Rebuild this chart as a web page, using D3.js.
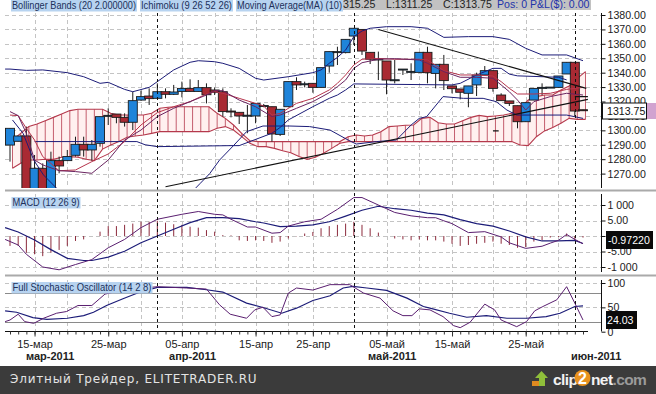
<!DOCTYPE html>
<html>
<head>
<meta charset="utf-8">
<script src="https://cdn.jsdelivr.net/npm/d3@7"></script>
<style>
html, body { margin: 0; padding: 0; background: #fff; }
svg { display: block; }
text { font-family: "Liberation Sans", Arial, sans-serif; }
.tick text { font-size: 10.6px; fill: #222; }
</style>
</head>
<body>
<div id="chart"></div>
<script>
// candles, one per trading slot
var opens = [1289.8,1292.4,1296.1,1258,1273.7,1258,1279,1279,1282.7,1290.3,
    1286.4,1291,1309.9,1311.3,1309,1305.6,1321,1323.8,1322.2,1326.8,
    1325,1327,1329.1,1327,1329.6,1328,1326.8,1313.4,1312.5,1310,
    1310,1316.9,1316.4,1297.2,1316.4,1333.8,1332,1332.6,1329.8,1344.6,
    1354.4,1353.9,1365.4,1370,1354.1,1349.3,1348.1,1334.9,1342.3,1340.7,
    1340.2,1354.1,1339.5,1345.8,1330.8,1328.7,1325.7,1331.5,1338.4,1341.4,
    1324.5,1320.4,1317.1,1306,1321,1329.6,1329.8,1329.8,1339.1,1347.2,1314.3];
var closes = [1301.4,1296.1,1258,1273.7,1258,1279,1275.3,1281.8,1290.3,1286.4,
    1290.3,1309.5,1310.4,1309,1305.6,1320.6,1323.4,1322,1326.8,1325,
    1326.6,1329.1,1327,1329.6,1324.7,1326.4,1313,1313,1310,1310.5,
    1318.7,1317.2,1297.5,1314.6,1333.8,1331.5,1332.3,1329.8,1343.5,1354.6,
    1354.6,1363.1,1370.8,1355,1349.3,1349.5,1334.9,1335.1,1342.5,1340.9,
    1354.1,1340,1345.8,1334.5,1328.9,1326.4,1330.8,1338.4,1341.4,1329.1,
    1320.6,1318.7,1306,1319.2,1329.1,1329.8,1330,1337.7,1347.2,1313.4,1313.75];
var highs = [1301.4,1296.1,1302.6,1282.9,1277.1,1285.2,1281.8,1286.4,1295.6,1295.6,
    1293.3,1309.5,1315.3,1311.3,1311.8,1326.8,1327.5,1329.1,1332.6,1329.1,
    1331.5,1333.8,1335.4,1334.9,1332.6,1329.8,1329.1,1315.3,1312.5,1317.6,
    1318.7,1318.3,1316.4,1314.6,1333.8,1336.8,1333.8,1332.6,1343.5,1354.6,
    1358,1363.1,1370.8,1370,1354.1,1354.6,1348.1,1348.8,1342.5,1346.5,
    1354.1,1358,1345.8,1352.3,1330.8,1328.7,1330.8,1340,1344.6,1341.4,
    1325.7,1320.4,1317.1,1319.2,1329.1,1332.6,1330,1337.7,1347.2,1347.2,1314.3];
var lows = [1278.3,1292.4,1258,1258,1258,1258,1270.2,1279,1281.8,1281.8,
    1279,1288.7,1303.7,1304.9,1302.6,1300.2,1320.6,1317.6,1322.2,1322.2,
    1324.5,1322.9,1327,1327,1318.7,1324.5,1309.5,1309,1304.4,1298,
    1304.9,1316,1292.2,1296.1,1316.4,1328,1329.8,1326.1,1329.8,1340,
    1345.3,1353.4,1359.2,1352.3,1346,1334.9,1325,1332.6,1338.4,1334.9,
    1340.2,1332.6,1329.1,1328,1325.7,1321.5,1316,1323.8,1338.4,1326.8,
    1320.6,1316.9,1301.4,1306,1321,1324.5,1329.8,1329.8,1339.1,1309.5,1313.4];

// ichimoku cloud, one per slot
var spanA = [1293.3,1297.9,1302.6,1304.4,1306.7,1309,1311.3,1313.7,1314.6,1314.6,
    1314.6,1314.6,1311.8,1310.6,1310.6,1310.6,1310.6,1311.8,1315.3,1316,
    1316.4,1316.4,1316.4,1316.4,1316.4,1311.8,1308.3,1303.7,1297.9,1292.8,
    1292.2,1292.2,1292.2,1292.2,1292.2,1292.2,1292.2,1292.2,1292.2,1292.2,
    1292.2,1295.6,1296.8,1296.1,1296.8,1299.1,1302.6,1303,1303.5,1303.7,
    1308.3,1309,1305.3,1304.4,1304.4,1306.7,1309,1310.4,1309.5,1310,
    1310.6,1311.8,1315.3,1321,1323.4,1324.5,1324.5,1328,1330.8,1336.1,1340.7];
var spanB = [1273.7,1277.1,1279.4,1279.4,1279.9,1279.9,1281.3,1281.8,1281.3,1279.9,
    1279,1287,1289.8,1292.2,1295.2,1296.1,1296.8,1297.9,1299.1,1299.1,
    1299.1,1299.1,1299.1,1299.1,1299.1,1301.4,1302.6,1300.2,1295.6,1291,
    1288.7,1288.7,1287.5,1285.9,1284.5,1281.8,1279.9,1281.3,1284.1,1287.5,
    1291,1292.2,1292.2,1292.2,1292.2,1292.2,1292.2,1292.2,1292.2,1292.2,
    1292.2,1292.2,1292.2,1292.2,1292.2,1292.2,1292.2,1292.2,1292.2,1292.2,
    1292.2,1292.2,1289.8,1289.4,1295.6,1299.6,1301.9,1304.9,1308.3,1307.6,1307.6];

// overlays as [slot, price]
var upperBand = [[-0.6,1342.5],[0,1342.5],[2,1341.6],[4,1341.9],[7,1340],[9,1337.2],[11,1332.6],[12,1333.3],[14,1328.4],[15,1326.8],
    [17,1329.8],[18,1333.8],[20,1341.9],[22,1347.2],[23,1348.3],[25,1347.6],[26,1346.5],[28,1343],[30,1336.1],[31,1334.9],
    [34,1337.2],[37,1340],[38,1341.9],[39,1346.5],[40,1350.6],[41,1355.7],[42,1365],[43,1368.9],[44,1370.8],[46,1371.9],
    [49,1371.9],[51,1370.8],[53,1364.5],[56,1365],[59,1365],[61,1363.1],[63,1356.9],[65,1352.3],[68,1352.3],[70,1348.3]];
var lowerBand = [[0.3,1307.2],[1.6,1297.9],[2.9,1279.4],[4.1,1269],[5.7,1259.8],[8,1250],[22,1256],[23.2,1263],[24.4,1270],[25.6,1279.4],
    [27.3,1289.4],[28.9,1299.1],[30.9,1303],[34.2,1303],[36.6,1302.6],[39.1,1300.2],[41.3,1293.3],[42.3,1290.5],[44.8,1292.2],
    [47.2,1293.3],[49,1303.7],[50,1308.3],[50.9,1309.5],[52.9,1323.4],[55.4,1322.2],[57.8,1322.2],[59.4,1319.9],[60.7,1314.1],
    [61.9,1310.6],[63.9,1310.6],[68,1310.6],[70,1308.3]];
var baseLine = [[3,1292.2],[15.5,1292.2],[16.5,1290],[18,1288.7],[27,1289.4],[28,1289.4],[32,1298],[33,1302],[34,1307.2],[37,1316.4],
    [39,1322.2],[40,1324.5],[41,1328],[42,1332.2],[54,1331.5],[55,1332.6],[57,1338.4],[59,1343],[60,1343],[61,1339],
    [62,1337.8],[67,1336.8],[68,1335]];
var maRed = [[0,1310.6],[1,1310.2],[2,1301.4],[3,1293.3],[4,1281.8],[5,1277.1],[6,1272],[8,1272.5],[10,1278.3],[12,1283.6],
    [14,1292.2],[16,1303.7],[18,1312.3],[20,1316.4],[22,1319.9],[24,1325.2],[25,1326.8],[26,1325.7],[28,1322.2],[30,1318.7],
    [31,1316.9],[32,1310.6],[33,1311.8],[35,1318.7],[37,1322.2],[39,1328],[40,1332.6],[41,1338.4],[42,1345.3],[43,1349.3],
    [45,1349.9],[47,1349.3],[50,1349.3],[51,1348.8],[53,1341.4],[55,1338.4],[57,1338.4],[59,1337.7],[60,1333.8],[61,1329.1],
    [62,1325.2],[64,1325.2],[66,1325.7],[68,1328.4],[70,1329.8]];
var maPurple = [[0,1313],[1,1310.2],[2,1297.9],[3,1279.4],[4,1276],[6,1272],[8,1271.4],[10,1270.2],[12,1279.4],[14,1293.3],
    [16,1300.2],[18,1309.5],[20,1315.3],[22,1319.9],[24,1324.5],[25,1327.5],[26,1327.5],[28,1321],[30,1316.4],[32,1309.5],
    [33,1310.6],[35,1315.3],[37,1319.9],[39,1326.1],[40,1330.3],[41,1334.9],[42,1343],[43,1346.9],[45,1349.3],[47,1349.7],
    [50,1348.8],[51,1346.5],[53,1340.7],[55,1336.8],[57,1336.8],[59,1336.1],[60,1331.5],[61,1326.8],[62,1321],[63,1314.1],
    [64,1319.9],[66,1323.4],[68,1325.7],[70,1324.5]];
var trendLines = [[[45,1370],[70.4,1329.1]], [[19,1260.9],[70.6,1321.5]], [[69,1323.4],[70.6,1323.4]], [[59,1299.6],[59.7,1299.6]]];

// macd panel
var macdHist = [-3.2,-3.2,-5.4,-5.9,-6.5,-5.4,-4.5,-3.2,-1.6,-1.1,
    0,1.4,3.2,3.2,3.6,4,4.6,4.6,4.9,4.3,
    3.8,3.6,3,2.7,1.9,1.4,0.3,0.2,-1.4,-1.6,
    -1.4,-1.6,-2.2,-1.8,-0.8,-0.1,0.8,1.3,2.5,3.2,
    3.6,4,4.6,3.6,2.5,1.1,0,-0.8,-1.1,-1.4,
    -1.1,-1.4,-1.4,-1.8,-2.5,-3.2,-2.9,-2.5,-2.2,-1.8,
    -2.5,-2.9,-3.8,-3.6,-1.8,-1.4,-0.5,-0.3,0.8,-1.6,-0.5];
var macdSignal = [[-0.6,2.7],[1,1.3],[3,-1.3],[5,-4.4],[7,-7.2],[9,-7.9],[10,-7.9],[12,-6.8],[14,-4.9],[16,-2.2],
    [18,0],[20,2.2],[22,4.3],[24,5.9],[26,5.9],[28,5.6],[30,4.6],[31,4.2],[33,3],[35,3.2],
    [37,3.6],[39,4.6],[41,6.4],[43,8.3],[45,9.6],[47,8.8],[49,8.3],[51,7.4],[53,6.8],[55,5.3],
    [57,4],[59,3.2],[61,1.6],[63,-0.3],[65,-1.6],[67,-1.6],[69,-1.4],[70,-2.4]];
var macdLine = [[-0.6,-1.1],[1,-2.9],[2,-5.9],[4,-10],[6,-10.9],[8,-9.2],[10,-7.6],[12,-3.8],[14,-1.1],[16,2.7],
    [18,5.4],[21,7],[23,7.9],[25,7],[26,6.8],[27,5.4],[29,2.9],[30,2.9],[32,0.9],[33,1.1],
    [34,3.2],[36,4.6],[38,5.4],[40,8.6],[42,12.4],[43,12.4],[45,10],[47,7.6],[49,6.5],[51,5.9],
    [52,5.9],[53,4.9],[54,4],[56,1.1],[58,1.4],[60,-0.3],[61,-2.2],[63,-4],[65,-3.3],[66,-2.3],
    [67,-1.4],[68,0.5],[69,-1.1],[70,-2.5]];

// stochastic panel
var stochSlow = [[-0.6,42.8],[0.8,40],[2.8,29],[4.5,25.5],[7,27.6],[9,33],[10.2,40],[11.8,53.8],[13.8,67.6],[15.9,81.4],
    [18,91],[21.6,91],[24,86.2],[26,81.4],[28.9,58.6],[30.9,49.7],[33.2,37.9],[35,48.3],[37,64],[39.1,73.8],
    [40.7,89.7],[41.9,93],[43.6,89.7],[46,84.8],[48.5,69],[50.5,51.7],[51.3,48.3],[53.7,37.9],[55.8,29.7],[58.2,33],
    [60.7,27.6],[63.1,27.6],[65.5,31],[67.2,37.9],[69,51.7],[70,53.1]];
var stochFast = [[-0.6,20.7],[0,24],[1,35.9],[1.8,20.7],[2.9,17.2],[4.1,27.6],[5.7,38],[6.9,41.4],[8.3,53.8],[10,53.8],
    [11.6,77.2],[14,86],[18,92.4],[21.6,89.7],[24,87.6],[25.6,55.2],[26.9,35.9],[28.9,27.6],[29.9,44.8],[30.9,50.3],
    [32,31],[33,34.5],[34,79.3],[35,89.7],[37,85.5],[39.1,96.6],[41.5,96.6],[43.2,79.3],[45.2,69],[46.8,42.8],
    [48,33],[49.1,33],[50,46.9],[51.3,44.8],[52.9,31],[54.2,12.4],[55,8.3],[56.2,19.3],[58,56.6],[59.2,44.8],
    [60,24],[61.9,10.3],[63.1,20.7],[64.1,42.8],[65.1,51.7],[66.8,65.5],[68,92.4],[69,58.6],[70,24.03]];

// axes and labels
var slotCount = 71;
var gridSlots = [3,7,12,16,21,25,30,34,37,46,50,54,59,63,67];
var monthSlots = [18,42,69];
var dateSlots = [3,12,21,30,37,46,54,63];
var dateLabels = ["15-мар","25-мар","05-апр","15-апр","25-апр","05-май","15-май","25-май"];
var monthLabels = ["мар-2011","апр-2011","май-2011","июн-2011"];
var monthLabelSlots = [4.9,22.3,46.7,71.6];
var priceTicks = [1380,1370,1360,1350,1340,1330,1320,1310,1300,1290,1280,1270];
var macdTicks = [10,5,0,-5,-10];
var macdTickLabels = ["1 000","5.00","","-5.00","-1 000"];
var stochTicks = [100,50,0];
var topLabels = ["Bollinger Bands (20 2.000000)","Ichimoku (9 26 52 26)","Moving Average(MA) (10)"];
var topLabelWidths = [124,91,105];
var quoteTexts = ["315.25","L:1311.25","C:1313.75","Pos: 0 P&L($): 0.00"];
var lastPrice = 1313.75, lastMacd = -0.9722, lastStoch = 24.03;

var width = 656, height = 394;
var axisX = 601.5, leftX = 5;

var svg = d3.select("#chart").append("svg")
    .attr("width", width)
    .attr("height", height);

var x = d3.scaleLinear().domain([0, slotCount - 1]).range([10, 583]);
var yPrice = d3.scaleLinear().domain([1270, 1380]).range([173.6, 15]);
var yMacd = d3.scaleLinear().domain([-10, 10]).range([267, 205]);
var yStoch = d3.scaleLinear().domain([0, 100]).range([331.7, 283]);

var lineGen = function(scale) {
    return d3.line()
        .x(function(d) { return x(d[0]); })
        .y(function(d) { return scale(d[1]); });
};

svg.append("defs").append("clipPath").attr("id", "main-clip")
    .append("rect").attr("x", leftX).attr("y", 13).attr("width", axisX - leftX).attr("height", 175);

/*
 * Grid
 */
var grid = svg.append("g").attr("stroke", "#c4c4c4").attr("stroke-dasharray", "4,3").attr("fill", "none");

function hGrid(scale, values) {
    grid.selectAll(null).data(values).enter().append("line")
        .attr("x1", leftX).attr("x2", axisX)
        .attr("y1", function(d) { return Math.round(scale(d)) + 0.5; })
        .attr("y2", function(d) { return Math.round(scale(d)) + 0.5; });
}
hGrid(yPrice, priceTicks);
hGrid(yMacd, macdTicks);
hGrid(yStoch, [100, 50]);

[[13, 188], [194, 272], [280, 331]].forEach(function(r) {
    grid.selectAll(null).data(gridSlots).enter().append("line")
        .attr("x1", function(d) { return Math.round(x(d)) + 0.5; })
        .attr("x2", function(d) { return Math.round(x(d)) + 0.5; })
        .attr("y1", r[0]).attr("y2", r[1]);
});

/*
 * Main panel
 */
var main = svg.append("g").attr("clip-path", "url(#main-clip)");
var cloudOffset = 2.5;
var cloudColor = "#b5394c";

var cloudArea = d3.area()
    .x(function(d, i) { return x(i) + cloudOffset; })
    .y0(function(d, i) { return yPrice(spanB[i]); })
    .y1(function(d) { return yPrice(d); });

main.append("path").datum(spanA)
    .attr("d", cloudArea)
    .attr("fill", "#fff0ef");

main.selectAll(".hatch").data(spanA).enter().append("line")
    .attr("class", "hatch")
    .attr("x1", function(d, i) { return x(i) + cloudOffset; })
    .attr("x2", function(d, i) { return x(i) + cloudOffset; })
    .attr("y1", function(d) { return yPrice(d); })
    .attr("y2", function(d, i) { return yPrice(spanB[i]); })
    .attr("stroke", cloudColor)
    .attr("stroke-width", 0.8);

[spanA, spanB].forEach(function(s) {
    main.append("path").datum(s)
        .attr("d", d3.line()
            .x(function(d, i) { return x(i) + cloudOffset; })
            .y(function(d) { return yPrice(d); }))
        .attr("fill", "none")
        .attr("stroke", cloudColor)
        .attr("stroke-width", 1.1);
});

// wicks then bodies
main.selectAll(".wick").data(opens).enter().append("line")
    .attr("class", "wick")
    .attr("x1", function(d, i) { return x(i); })
    .attr("x2", function(d, i) { return x(i); })
    .attr("y1", function(d, i) { return yPrice(highs[i]); })
    .attr("y2", function(d, i) { return yPrice(lows[i]); })
    .attr("stroke", "#1a1a1a");

var bodyWidth = 9;
main.selectAll(".body").data(opens).enter().append("rect")
    .attr("class", "body")
    .attr("x", function(d, i) { return x(i) - bodyWidth / 2; })
    .attr("y", function(d, i) { return yPrice(Math.max(d, closes[i])); })
    .attr("width", bodyWidth)
    .attr("height", function(d, i) { return Math.max(1, Math.abs(yPrice(d) - yPrice(closes[i]))); })
    .attr("fill", function(d, i) { return closes[i] >= d ? "#1f84da" : "#a92a33"; })
    .attr("stroke", "#1a1a1a")
    .attr("stroke-width", 0.9);

[[lowerBand, "#1c1c78"], [upperBand, "#1c1c78"], [baseLine, "#1c1c78"], [maRed, "#b5344c"], [maPurple, "#6a2460"]].forEach(function(s) {
    main.append("path").datum(s[0])
        .attr("d", lineGen(yPrice))
        .attr("fill", "none")
        .attr("stroke", s[1])
        .attr("stroke-width", 1);
});

main.selectAll(".trend").data(trendLines).enter().append("path")
    .attr("class", "trend")
    .attr("d", lineGen(yPrice))
    .attr("fill", "none")
    .attr("stroke", "#111")
    .attr("stroke-width", 1.1);

/*
 * MACD panel
 */
svg.append("g").selectAll("line").data(macdHist).enter().append("line")
    .attr("x1", function(d, i) { return x(i); })
    .attr("x2", function(d, i) { return x(i); })
    .attr("y1", yMacd(0))
    .attr("y2", function(d) { return yMacd(d); })
    .attr("stroke", "#8c2a3c");

svg.append("path").datum(macdSignal)
    .attr("d", lineGen(yMacd))
    .attr("fill", "none").attr("stroke", "#1c1c78").attr("stroke-width", 1.2);
svg.append("path").datum(macdLine)
    .attr("d", lineGen(yMacd))
    .attr("fill", "none").attr("stroke", "#5a1f70").attr("stroke-width", 1);

/*
 * Stochastic panel
 */
[80, 20].forEach(function(v) {
    svg.append("line")
        .attr("x1", leftX).attr("x2", axisX)
        .attr("y1", Math.round(yStoch(v)) + 0.5).attr("y2", Math.round(yStoch(v)) + 0.5)
        .attr("stroke", "#8a8a8a");
});
svg.append("path").datum(stochSlow)
    .attr("d", lineGen(yStoch))
    .attr("fill", "none").attr("stroke", "#1c1c78").attr("stroke-width", 1.2);
svg.append("path").datum(stochFast)
    .attr("d", lineGen(yStoch))
    .attr("fill", "none").attr("stroke", "#5a1f70").attr("stroke-width", 1);

/*
 * Month markers, separators
 */
svg.append("g").selectAll("line").data(monthSlots).enter().append("line")
    .attr("x1", function(d) { return Math.round(x(d)) + 0.5; })
    .attr("x2", function(d) { return Math.round(x(d)) + 0.5; })
    .attr("y1", 13).attr("y2", 331)
    .attr("stroke", "#111")
    .attr("stroke-dasharray", "3,3");

[190.5, 275.5].forEach(function(yy) {
    svg.append("line")
        .attr("x1", leftX).attr("x2", width)
        .attr("y1", yy).attr("y2", yy)
        .attr("stroke", "#aaaaaa").attr("stroke-width", 2);
});

/*
 * Axes
 */
function rightAxis(scale, values, format, top, bottom) {
    var g = svg.append("g")
        .attr("transform", "translate(" + axisX + ",0)")
        .call(d3.axisRight(scale).tickValues(values).tickFormat(format).tickSize(4).tickPadding(2));
    g.select(".domain").remove();
    g.append("line").attr("y1", top).attr("y2", bottom).attr("stroke", "#111");
    g.selectAll(".tick line").attr("stroke", "#111");
    return g;
}
rightAxis(yPrice, priceTicks, d3.format(".2f"), 13, 188);
rightAxis(yMacd, macdTicks, function(d, i) { return macdTickLabels[i]; }, 194, 272);
rightAxis(yStoch, stochTicks, d3.format("d"), 280, 331.5);

// every slot gets a small tick, dated slots a longer one
var xAxisG = svg.append("g").attr("transform", "translate(0,331.5)")
    .call(d3.axisBottom(x).tickValues(d3.range(0, slotCount)).tickSize(3).tickFormat(""));
xAxisG.select(".domain").attr("d", "M" + leftX + ",0H588").attr("stroke", "#111");
xAxisG.selectAll(".tick line").attr("stroke", "#333");

var xLabelG = svg.append("g").attr("transform", "translate(0,331.5)")
    .call(d3.axisBottom(x).tickValues(dateSlots).tickSize(5).tickPadding(2)
        .tickFormat(function(d, i) { return dateLabels[i]; }));
xLabelG.select(".domain").remove();
xLabelG.selectAll(".tick line").attr("stroke", "#333");
xLabelG.selectAll(".tick text").style("font-size", "11px").attr("y", 9);

svg.append("g").selectAll("text").data(monthLabels).enter().append("text")
    .attr("x", function(d, i) { return x(monthLabelSlots[i]); })
    .attr("y", 360)
    .attr("text-anchor", "middle")
    .attr("font-size", 11)
    .attr("font-weight", "bold")
    .attr("fill", "#222")
    .text(function(d) { return d; });

/*
 * Indicator captions, squeezed to the width they have on the original
 */
function caption(label, xPos, yPos, w) {
    var g = svg.append("g");
    g.append("rect")
        .attr("x", xPos - 1).attr("y", yPos - 9)
        .attr("width", w + 2).attr("height", 11.5)
        .attr("fill", "#b7d3f0");
    g.append("text")
        .attr("x", xPos).attr("y", yPos)
        .attr("font-size", 10.5)
        .attr("textLength", w)
        .attr("lengthAdjust", "spacingAndGlyphs")
        .attr("fill", "#20305a")
        .text(label);
}
var capX = 12;
topLabels.forEach(function(label, i) {
    caption(label, capX, 9, topLabelWidths[i]);
    capX += topLabelWidths[i] + 5;
});
caption("MACD (12 26 9)", 12.5, 206, 67);
caption("Full Stochastic Oscillator (14 2 8)", 12.5, 291, 139);

svg.append("rect").attr("x", 343).attr("y", 0).attr("width", 248).attr("height", 10).attr("fill", "#c2c2c2");
svg.append("g").selectAll("text").data(quoteTexts).enter().append("text")
    .attr("x", function(d, i) { return [343, 386, 443, 497][i]; })
    .attr("y", 8)
    .attr("font-size", 10.6)
    .attr("fill", function(d, i) { return i == 3 ? "#2233aa" : "#222"; })
    .text(function(d) { return d; });

/*
 * Last value boxes on the right
 */
svg.append("rect").attr("x", 647).attr("y", 103).attr("width", 9).attr("height", 16).attr("fill", "#d1a3d0");
svg.append("rect").attr("x", 602.5).attr("y", 103).attr("width", 44).attr("height", 16)
    .attr("fill", "#fff").attr("stroke", "#111");
svg.append("text").attr("x", 607).attr("y", yPrice(lastPrice) + 4).attr("font-size", 10.6).attr("fill", "#111")
    .text(d3.format(".2f")(lastPrice));

svg.append("rect").attr("x", 606).attr("y", 231).attr("width", 47).attr("height", 18).attr("fill", "#0a0a0a");
svg.append("text").attr("x", 608).attr("y", 244).attr("font-size", 10.6).attr("fill", "#fff")
    .text(d3.format(".5f")(lastMacd).replace("\u2212", "-"));

svg.append("rect").attr("x", 606).attr("y", 311).attr("width", 31).attr("height", 18).attr("fill", "#0a0a0a");
svg.append("text").attr("x", 607).attr("y", 324).attr("font-size", 10.6).attr("fill", "#fff")
    .text(d3.format(".2f")(lastStoch));

/*
 * Footer
 */
svg.append("rect").attr("x", 0).attr("y", 366).attr("width", width).attr("height", 28).attr("fill", "#3b3b3b");
svg.append("text").attr("x", 10).attr("y", 383)
    .attr("font-size", 12)
    .attr("letter-spacing", 0.8)
    .attr("fill", "#e4e4e4")
    .style("font-family", "'DejaVu Sans', sans-serif")
    .text("Элитный Трейдер, ELITETRADER.RU");

var logo = svg.append("g");
logo.append("path").attr("d", "M532,386 L532,381 L541,381 L541,386 Z").attr("fill", "#e08a20");
logo.append("path").attr("d", "M541.5,371 L548,378 L545,378 L545,386 L539,386 L539,378 L535,378 Z").attr("fill", "#8fbf3a");

logo.append("text").attr("x", 553).attr("y", 385)
    .attr("font-size", 15.5).attr("font-weight", "bold").attr("letter-spacing", -0.6)
    .attr("fill", "#f2f2f2").text("clip");
logo.append("circle").attr("cx", 582.5).attr("cy", 378).attr("r", 8).attr("fill", "#e9921e");
logo.append("text").attr("x", 582.5).attr("y", 384).attr("text-anchor", "middle")
    .attr("font-size", 16).attr("font-weight", "bold").attr("fill", "#fff").text("2");
var logoText = logo.append("text").attr("x", 591).attr("y", 385)
    .attr("font-size", 15.5).attr("font-weight", "bold").attr("letter-spacing", -0.6);
logoText.append("tspan").attr("fill", "#f2f2f2").text("net");
logoText.append("tspan").attr("fill", "#9a9a9a").text(".com");
</script>
</body>
</html>
